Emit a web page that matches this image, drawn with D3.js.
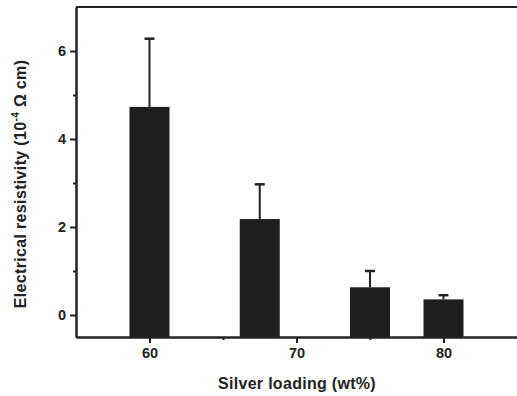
<!DOCTYPE html>
<html>
<head>
<meta charset="utf-8">
<script src="https://cdn.jsdelivr.net/npm/d3@7"></script>
<style>
  body { margin: 0; background: #fff; }
  svg { display: block; }
  text { font-family: "Liberation Sans", Arial, sans-serif; font-weight: bold; fill: #222; }
</style>
</head>
<body>
<div id="chart"></div>
<script>
// silver loading (wt%), mean resistivity, upper error
const loading = [60, 67.5, 75, 80];
const resistivity = [4.73, 2.18, 0.63, 0.355];
const errUp = [1.55, 0.79, 0.37, 0.095];
const yTicks = [0, 2, 4, 6];
const xTicks = [60, 70, 80];

const W = 517, H = 396;
const margin = { top: 7, right: 0, bottom: 59, left: 76 };

const svg = d3.select('#chart').append('svg')
    .attr('width', W).attr('height', H);

const x = d3.scaleLinear().domain([55, 85]).range([margin.left, W - margin.right]);
const y = d3.scaleLinear().domain([-0.5, 7]).range([H - margin.bottom, margin.top]);

const ink = '#222';
const barW = 40;

// bars
svg.selectAll('rect.bar')
    .data(loading)
    .enter().append('rect')
    .attr('class', 'bar')
    .attr('x', d => x(d) - barW / 2)
    .attr('width', barW)
    .attr('y', (d, i) => y(resistivity[i]))
    .attr('height', (d, i) => y(-0.5) - y(resistivity[i]))
    .attr('fill', '#1e1e1e');

// error bars
const eb = svg.selectAll('g.err')
    .data(loading)
    .enter().append('g')
    .attr('class', 'err');

eb.append('line')
    .attr('x1', d => x(d)).attr('x2', d => x(d))
    .attr('y1', (d, i) => y(resistivity[i]))
    .attr('y2', (d, i) => y(resistivity[i] + errUp[i]))
    .attr('stroke', ink).attr('stroke-width', 2);

eb.append('line')
    .attr('x1', d => x(d) - 5).attr('x2', d => x(d) + 5)
    .attr('y1', (d, i) => y(resistivity[i] + errUp[i]))
    .attr('y2', (d, i) => y(resistivity[i] + errUp[i]))
    .attr('stroke', ink).attr('stroke-width', 2.5);

// top frame line
svg.append('line')
    .attr('x1', margin.left).attr('x2', W)
    .attr('y1', y(7)).attr('y2', y(7))
    .attr('stroke', ink).attr('stroke-width', 2);

// x axis
svg.append('g')
    .attr('transform', `translate(0,${y(-0.5)})`)
    .call(d3.axisBottom(x).tickValues(xTicks).tickSize(6).tickPadding(5).tickSizeOuter(0));
svg.append('g')
    .attr('transform', `translate(0,${y(-0.5)})`)
    .call(d3.axisBottom(x).tickValues([65, 75]).tickSize(3).tickFormat('').tickSizeOuter(0));

// y axis
svg.append('g')
    .attr('transform', `translate(${margin.left},0)`)
    .call(d3.axisLeft(y).tickValues(yTicks).tickSize(6).tickPadding(4).tickSizeOuter(0));
svg.append('g')
    .attr('transform', `translate(${margin.left},0)`)
    .call(d3.axisLeft(y).tickValues([1, 3, 5]).tickSize(3).tickFormat('').tickSizeOuter(0));

svg.selectAll('.domain').attr('stroke', ink).attr('stroke-width', 2);
svg.selectAll('.tick line').attr('stroke', ink).attr('stroke-width', 2);
svg.selectAll('.tick text').attr('font-size', 14.5).attr('font-weight', 'bold')
    .attr('font-family', '"Liberation Sans", Arial, sans-serif').attr('fill', ink);

// axis titles
const xt = svg.append('text')
    .attr('x', 297).attr('y', 389)
    .attr('text-anchor', 'middle')
    .attr('font-size', 16)
    .text('Silver loading (wt%)');

const yt = svg.append('text')
    .attr('transform', 'translate(26,184) rotate(-90)')
    .attr('text-anchor', 'middle')
    .attr('font-size', 16);
yt.append('tspan').text('Electrical resistivity (10');
yt.append('tspan').attr('font-size', 10).attr('dy', -7).text('-4');
yt.append('tspan').attr('dy', 7).text(' \u03A9  cm)');

// stretch titles to the widths in the picture
function fit(t, target) {
    const n = t.text().length;
    const len = t.node().getComputedTextLength();
    t.attr('letter-spacing', (target - len) / n);
}
fit(xt, 158);
fit(yt, 249);
</script>
</body>
</html>
